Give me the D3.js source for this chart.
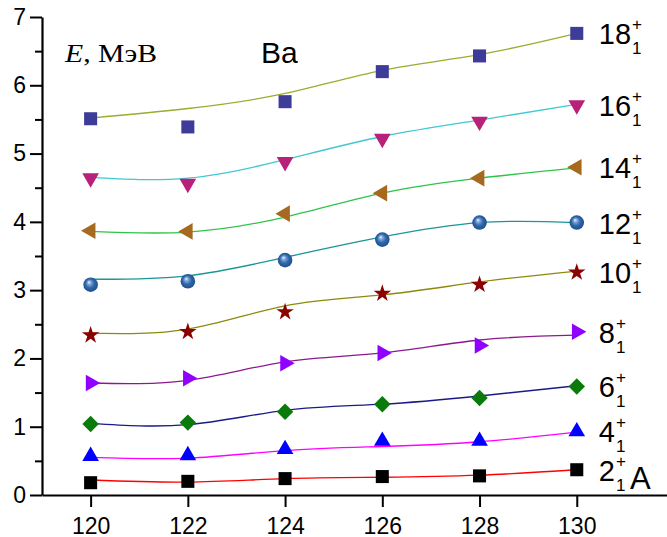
<!DOCTYPE html>
<html>
<head>
<meta charset="utf-8">
<script src="https://cdn.jsdelivr.net/npm/d3@7"></script>
<style>
  html, body { margin: 0; padding: 0; background: #fff; }
  svg { display: block; }
</style>
</head>
<body>
<svg id="chart"></svg>
<script>
// mass numbers A
const massNumbers = [120, 122, 124, 126, 128, 130];
const xTicks = [120, 122, 124, 126, 128, 130];
const yTicks = [0, 1, 2, 3, 4, 5, 6, 7];
const yMinorTicks = [0.5, 1.5, 2.5, 3.5, 4.5, 5.5, 6.5];

// level spins (label text) and measured energies, MeV
const spins = ["2", "4", "6", "8", "10", "12", "14", "16", "18"];

const e2 = [0.18, 0.20, 0.24, 0.27, 0.28, 0.37];
const e4 = [0.57, 0.58, 0.67, 0.79, 0.79, 0.93];
const e6 = [1.04, 1.06, 1.22, 1.33, 1.42, 1.59];
const e8 = [1.64, 1.71, 1.93, 2.08, 2.19, 2.39];
const e10 = [2.34, 2.39, 2.68, 2.95, 3.08, 3.26];
const e12 = [3.08, 3.13, 3.44, 3.74, 3.99, 3.99];
const e14 = [3.87, 3.86, 4.12, 4.42, 4.64, 4.80];
const e16 = [4.64, 4.56, 4.88, 5.22, 5.47, 5.71];
const e18 = [5.51, 5.39, 5.76, 6.20, 6.43, 6.76];

// fitted curves, read at the same mass numbers
const fit2 = [0.22, 0.19, 0.24, 0.26, 0.29, 0.37];
const fit4 = [0.55, 0.54, 0.65, 0.71, 0.78, 0.92];
const fit6 = [1.05, 1.03, 1.24, 1.33, 1.45, 1.60];
const fit8 = [1.64, 1.68, 1.95, 2.08, 2.27, 2.34];
const fit10 = [2.37, 2.43, 2.77, 2.93, 3.12, 3.28];
const fit12 = [3.16, 3.21, 3.48, 3.78, 3.99, 3.99];
const fit14 = [3.86, 3.85, 4.07, 4.42, 4.64, 4.79];
const fit16 = [4.65, 4.64, 4.91, 5.25, 5.49, 5.72];
const fit18 = [5.52, 5.66, 5.88, 6.22, 6.45, 6.76];

const energies = [e2, e4, e6, e8, e10, e12, e14, e16, e18];
const fits = [fit2, fit4, fit6, fit8, fit10, fit12, fit14, fit16, fit18];

// look of each level
const styles = [
  { marker: "square",   fill: "#000000", line: "#ff0000" },
  { marker: "triUp",    fill: "#0000ff", line: "#ff00ff" },
  { marker: "diamond",  fill: "#0a7a0a", line: "#1a1a88" },
  { marker: "triRight", fill: "#8f00ff", line: "#8b1a8b" },
  { marker: "star",     fill: "#8b0000", line: "#8c8a0a" },
  { marker: "sphere",   fill: "#2e66a8", line: "#1a9696" },
  { marker: "triLeft",  fill: "#a5691f", line: "#2ec44a" },
  { marker: "triDown",  fill: "#b8217a", line: "#40c8d0" },
  { marker: "square",   fill: "#3d3d99", line: "#9aad2e" }
];

const sans = "'Liberation Sans', Arial, sans-serif";
const serif = "'Liberation Serif', 'Times New Roman', serif";

const width = 667, height = 537;
const svg = d3.select("#chart").attr("width", width).attr("height", height)
  .attr("font-family", sans);

const x = d3.scaleLinear().domain([119, 132]).range([42, 674]);
const y = d3.scaleLinear().domain([0, 7]).range([495, 17]);

// sphere gradient
const defs = svg.append("defs");
const grad = defs.append("radialGradient")
  .attr("id", "sphere")
  .attr("cx", "50%").attr("cy", "50%").attr("r", "55%")
  .attr("fx", "38%").attr("fy", "32%");
grad.append("stop").attr("offset", "0%").attr("stop-color", "#f4f8ff");
grad.append("stop").attr("offset", "22%").attr("stop-color", "#7fa8dc");
grad.append("stop").attr("offset", "55%").attr("stop-color", "#2f67aa");
grad.append("stop").attr("offset", "100%").attr("stop-color", "#1c4a86");

// axes
const yAxis = svg.append("g")
  .attr("transform", `translate(${x(119)},0)`)
  .call(d3.axisLeft(y).tickValues(yTicks).tickFormat(d3.format("d"))
    .tickSize(12).tickSizeOuter(0).tickPadding(5));
svg.append("g")
  .attr("transform", `translate(${x(119)},0)`)
  .call(d3.axisLeft(y).tickValues(yMinorTicks).tickSize(7).tickFormat(""))
  .select(".domain").remove();

const xAxis = svg.append("g")
  .attr("transform", `translate(0,${y(0)})`)
  .call(d3.axisBottom(x).tickValues(xTicks).tickSize(12).tickSizeOuter(0).tickPadding(7));

svg.selectAll(".domain").attr("stroke", "#000").attr("stroke-width", 2.2);
svg.selectAll(".tick line").attr("stroke", "#000").attr("stroke-width", 2);
svg.selectAll(".tick text")
  .attr("font-family", sans)
  .attr("font-size", 23)
  .attr("fill", "#000");
xAxis.selectAll(".tick text").attr("dy", "0.85em");
yAxis.selectAll(".tick text").attr("x", -16);

// fitted curves
const line = d3.line()
  .x((d, i) => x(massNumbers[i]))
  .y(d => y(d))
  .curve(d3.curveNatural);

svg.append("g").selectAll("path")
  .data(fits)
  .join("path")
  .attr("d", d => line(d))
  .attr("fill", "none")
  .attr("stroke", (d, i) => styles[i].line)
  .attr("stroke-width", 1.3);

// markers
function markerPath(kind) {
  if (kind === "square") return d3.symbol(d3.symbolSquare, 170)();
  if (kind === "diamond") return d3.symbol(d3.symbolSquare, 135)();
  if (kind === "star") return d3.symbol(d3.symbolStar, 95)();
  return d3.symbol(d3.symbolTriangle, 120)();
}
const rotation = { triUp: 0, triRight: 90, triDown: 180, triLeft: 270, diamond: 45 };

energies.forEach((series, k) => {
  const st = styles[k];
  const g = svg.append("g");
  series.forEach((v, i) => {
    const cx = x(massNumbers[i]), cy = y(v);
    if (st.marker === "sphere") {
      g.append("circle")
        .attr("cx", cx).attr("cy", cy).attr("r", 7.3)
        .attr("fill", "url(#sphere)");
    } else {
      g.append("path")
        .attr("d", markerPath(st.marker))
        .attr("transform", `translate(${cx},${cy}) rotate(${rotation[st.marker] || 0})`)
        .attr("fill", st.fill);
    }
  });
});

// level labels: J with superscript + and subscript 1
const labels = svg.append("g");
spins.forEach((s, k) => {
  const last = energies[k][energies[k].length - 1];
  const lx = x(130) + 22;
  const ly = y(last) + 11;
  const main = labels.append("text")
    .attr("x", lx).attr("y", ly)
    .attr("font-size", 29)
    .text(s);
  const w = main.node().getComputedTextLength();
  labels.append("text")
    .attr("x", lx + w + 1).attr("y", ly - 14)
    .attr("font-size", 17)
    .text("+");
  labels.append("text")
    .attr("x", lx + w + 1).attr("y", ly + 10)
    .attr("font-size", 17)
    .text("1");
  if (k === 0) {
    labels.append("text")
      .attr("x", lx + w + 15).attr("y", ly + 8)
      .attr("font-size", 31)
      .text("A");
  }
});

// axis title and element name
const title = svg.append("text")
  .attr("x", 65).attr("y", 62)
  .attr("font-family", serif)
  .attr("font-size", 26)
  .attr("textLength", 92)
  .attr("lengthAdjust", "spacingAndGlyphs");
title.append("tspan").attr("font-style", "italic").text("E");
title.append("tspan").text(", МэВ");

svg.append("text")
  .attr("x", 261).attr("y", 63)
  .attr("font-size", 30)
  .text("Ba");
</script>
</body>
</html>
